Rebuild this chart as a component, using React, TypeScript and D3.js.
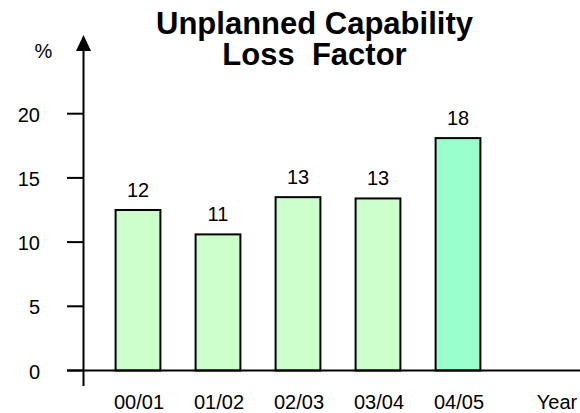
import React from "react";
import * as d3 from "d3";

const categories = ["00/01", "01/02", "02/03", "03/04", "04/05"];
const values = [12.5, 10.6, 13.5, 13.4, 18.1];
const valueLabels = ["12", "11", "13", "13", "18"];
const barColors = ["#CCFFCC", "#CCFFCC", "#CCFFCC", "#CCFFCC", "#99FFCC"];
const yTicks = [0, 5, 10, 15, 20];
const titleLines = ["Unplanned Capability", "Loss  Factor"];
const yUnit = "%";
const xUnit = "Year";

const W = 580;
const H = 413;
const FONT = "'Liberation Sans', Arial, Helvetica, sans-serif";

export default function App() {
  const x = d3
    .scaleBand<string>()
    .domain(categories)
    .range([98, 498])
    .paddingInner(0.44)
    .paddingOuter(0.22);
  const y = d3.scaleLinear().domain([0, 20]).range([370.5, 113.7]);
  const axisX = 83.5;
  const y0 = y(0);

  return (
    <svg
      width={W}
      height={H}
      style={{ position: "absolute", left: 0, top: 0, background: "#fff" }}
      fontFamily={FONT}
    >
      <rect x={0} y={0} width={W} height={H} fill="#fff" />
      {/* title */}
      <text x={314.5} y={33.5} textAnchor="middle" fontSize={31} fontWeight="bold" fill="#000">
        {titleLines[0]}
      </text>
      <text
        x={314.5}
        y={65}
        textAnchor="middle"
        fontSize={31}
        fontWeight="bold"
        fill="#000"
        style={{ whiteSpace: "pre" }}
      >
        {titleLines[1]}
      </text>

      {/* bars */}
      {categories.map((c, i) => (
        <rect
          key={c}
          x={x(c)!}
          y={y(values[i])}
          width={x.bandwidth()}
          height={y0 - y(values[i])}
          fill={barColors[i]}
          stroke="#000"
          strokeWidth={2}
        />
      ))}
      {categories.map((c, i) => (
        <text
          key={"v" + c}
          x={x(c)! + x.bandwidth() / 2}
          y={y(values[i]) - 13}
          textAnchor="middle"
          fontSize={20}
          fill="#000"
        >
          {valueLabels[i]}
        </text>
      ))}

      {/* x axis */}
      <line x1={67} x2={W} y1={y0} y2={y0} stroke="#000" strokeWidth={2} />
      {categories.map((c) => (
        <text
          key={"x" + c}
          x={x(c)! + x.bandwidth() / 2 + 1}
          y={409}
          textAnchor="middle"
          fontSize={20}
          fill="#000"
        >
          {c}
        </text>
      ))}
      <text x={557} y={409} textAnchor="middle" fontSize={20} fill="#000">
        {xUnit}
      </text>

      {/* y axis */}
      <line x1={axisX} x2={axisX} y1={386} y2={48} stroke="#000" strokeWidth={2} />
      <path
        d={`M${axisX},35 L${axisX - 7.5},51 L${axisX + 7.5},51 Z`}
        fill="#000"
      />
      {yTicks.map((t) => (
        <g key={"t" + t}>
          <line x1={67} x2={axisX} y1={y(t)} y2={y(t)} stroke="#000" strokeWidth={2} />
          <text x={40} y={y(t) + 8} textAnchor="end" fontSize={20} fill="#000">
            {t}
          </text>
        </g>
      ))}
      <text x={43.5} y={58} textAnchor="middle" fontSize={20} fill="#000">
        {yUnit}
      </text>
    </svg>
  );
}
